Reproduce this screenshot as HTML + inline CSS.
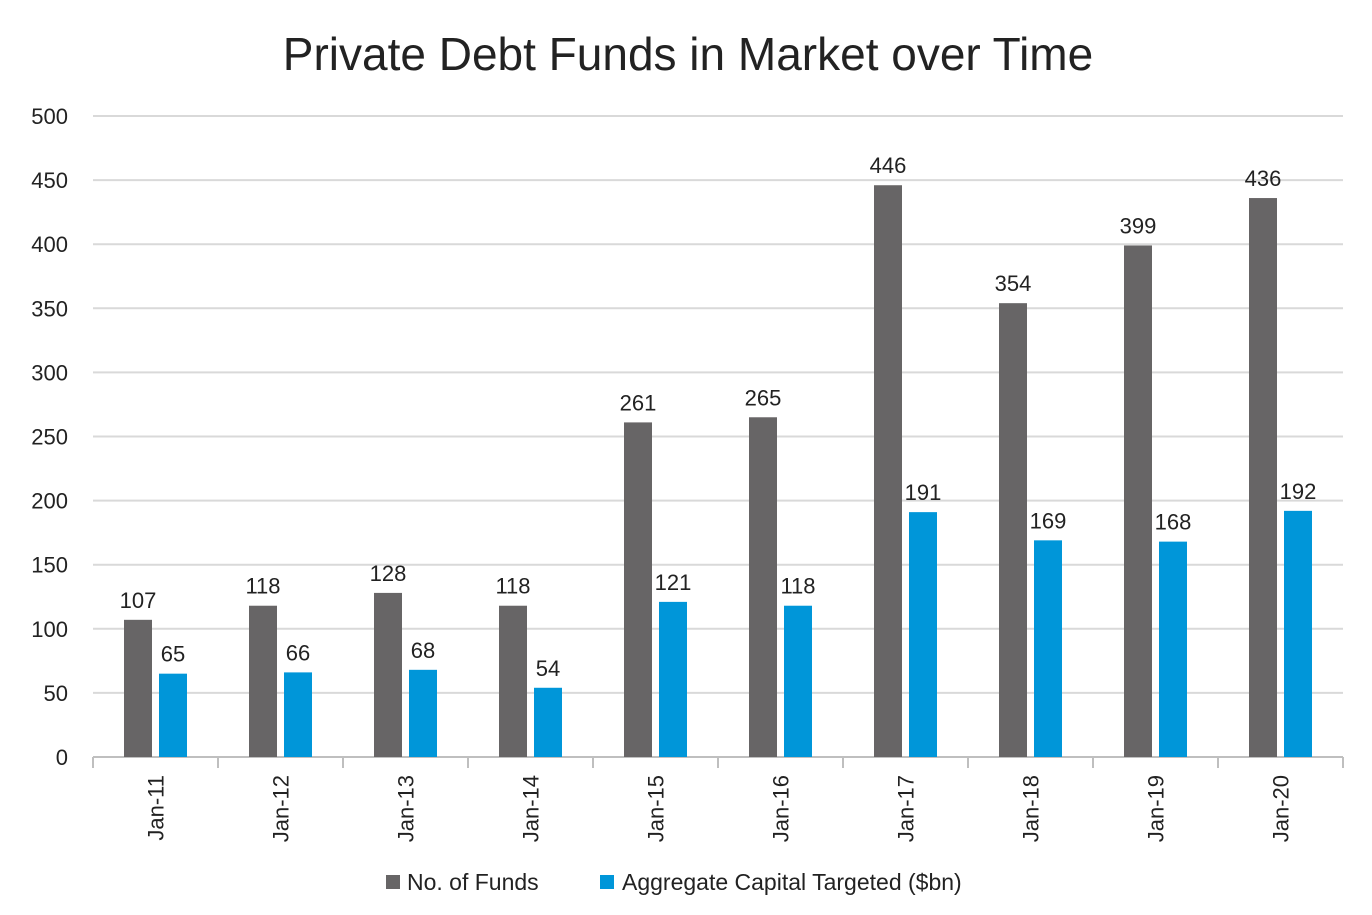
<!DOCTYPE html>
<html><head><meta charset="utf-8"><style>
body{margin:0;background:#fff;}
svg text{font-family:"Liberation Sans",sans-serif;fill:#222;}
</style></head><body>
<svg id="chart" width="1372" height="910" xmlns="http://www.w3.org/2000/svg">
<text x="688" y="70" font-size="46" text-anchor="middle">Private Debt Funds in Market over Time</text>
<g id="grid"></g>
<g id="yaxis"></g>
<g id="xaxis"></g>
<g id="bars"></g>
<g>
<rect x="386" y="875" width="14" height="14" fill="#676566"/>
<text x="407" y="890" font-size="23">No. of Funds</text>
<rect x="600" y="875" width="14" height="14" fill="#0096d9"/>
<text x="622" y="890" font-size="23">Aggregate Capital Targeted ($bn)</text>
</g>
</svg>
<script>
const categories=["Jan-11","Jan-12","Jan-13","Jan-14","Jan-15","Jan-16","Jan-17","Jan-18","Jan-19","Jan-20"];
const funds=[107,118,128,118,261,265,446,354,399,436];
const capital=[65,66,68,54,121,118,191,169,168,192];
const yTicks=[0,50,100,150,200,250,300,350,400,450,500];
const NS="http://www.w3.org/2000/svg";
const x0=93,x1=1343,yBase=757,yTop=116,yMax=500;
const band=(x1-x0)/categories.length;
const y=v=>yBase-(v/yMax)*(yBase-yTop);
function mk(tag,attrs,parent,txt){const e=document.createElementNS(NS,tag);for(const k in attrs)e.setAttribute(k,attrs[k]);if(txt!==undefined)e.textContent=txt;parent.appendChild(e);return e;}
const grid=document.getElementById('grid'),ya=document.getElementById('yaxis'),xa=document.getElementById('xaxis'),bars=document.getElementById('bars');
yTicks.forEach(t=>{
 if(t>0){const l=mk('line',{x1:x0,x2:x1,y1:y(t),y2:y(t),stroke:'#d9d9d9','stroke-width':2},grid);
 
 }
 const tx=mk('text',{x:68,y:y(t)+8,'font-size':22,'text-anchor':'end'},ya,t);
 
 
});
const ax=mk('line',{x1:x0,x2:x1,y1:yBase,y2:yBase,stroke:'#bfbfbf','stroke-width':2},xa);


for(let i=0;i<=categories.length;i++){
 const tk=mk('line',{x1:x0+i*band,x2:x0+i*band,y1:yBase,y2:yBase+11,stroke:'#bfbfbf','stroke-width':2},xa);
 
 
}
categories.forEach((c,i)=>{
 const cx=x0+band*(i+0.5);
 const lt=mk('text',{transform:`translate(${cx+8},775) rotate(-90)`,'font-size':22,'text-anchor':'end'},xa,c);
 
 
 const bw=28;
 const gx=cx-3.5-bw, bx=cx+3.5;
 const g=mk('rect',{x:gx,y:y(funds[i]),width:bw,height:yBase-y(funds[i]),fill:'#676566'},bars);
 
 
 const b=mk('rect',{x:bx,y:y(capital[i]),width:bw,height:yBase-y(capital[i]),fill:'#0096d9'},bars);
 
 
 const l1=mk('text',{x:gx+bw/2,y:y(funds[i])-12,'font-size':22,'text-anchor':'middle'},bars,funds[i]);
 
 
 const l2=mk('text',{x:bx+bw/2,y:y(capital[i])-12,'font-size':22,'text-anchor':'middle'},bars,capital[i]);
 
 
});
</script>
</body></html>
